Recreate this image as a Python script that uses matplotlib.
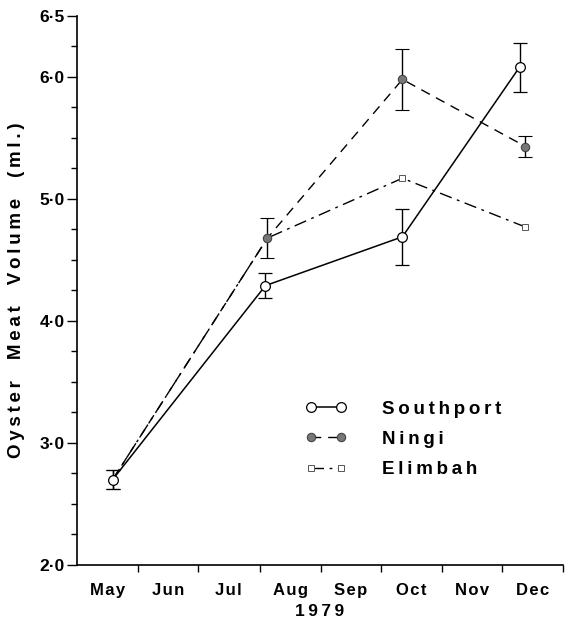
import datetime as dt
import matplotlib
matplotlib.use("Agg")
import matplotlib.pyplot as plt
import matplotlib.dates as mdates
from matplotlib.lines import Line2D
from matplotlib.ticker import FixedLocator, FuncFormatter

plt.rcParams['font.family'] = ['Liberation Sans', 'DejaVu Sans']

# sampling dates (1979) and mean meat volume (ml) for each site
south_dates = [dt.date(1979, 5, 19), dt.date(1979, 8, 4), dt.date(1979, 10, 12), dt.date(1979, 12, 10)]
ningi_dates = [dt.date(1979, 5, 19), dt.date(1979, 8, 5), dt.date(1979, 10, 12), dt.date(1979, 12, 13)]
elim_dates = [dt.date(1979, 5, 19), dt.date(1979, 8, 5), dt.date(1979, 10, 12), dt.date(1979, 12, 13)]

southport = [2.70, 4.29, 4.69, 6.08]
southport_err = [0.08, 0.10, 0.23, 0.20]
ningi = [2.70, 4.68, 5.98, 5.43]
ningi_err = [0.08, 0.16, 0.25, 0.09]
elimbah = [2.70, 4.68, 5.17, 4.77]

months = ['May', 'Jun', 'Jul', 'Aug', 'Sep', 'Oct', 'Nov', 'Dec']
y_major = [2.0, 3.0, 4.0, 5.0, 6.0, 6.5]


def spaced(s, sep='\u2009'):
    # old typewriter-ish letter spacing
    return sep.join(s)


fig = plt.figure(figsize=(5.7, 6.26), dpi=100)
ax = fig.add_axes([0.135, 0.0975, 0.853, 0.877])

south_style = dict(color='black', lw=1.1, marker='o', ms=7, mfc='white', mec='black', mew=0.9)
ningi_style = dict(color='black', lw=1.0, ls=(0, (7, 5)), marker='o', ms=6,
                   mfc='#777777', mec='#444444', mew=0.8)
elim_style = dict(color='black', lw=1.0, ls=(0, (9, 4, 2, 4)), marker='s', ms=4.5,
                  mfc='white', mec='#555555', mew=0.7)

ax.errorbar(south_dates, southport, yerr=southport_err, ecolor='black', elinewidth=1.0,
            capsize=5, capthick=1.0, zorder=4, **south_style)
ax.errorbar(ningi_dates, ningi, yerr=ningi_err, ecolor='black', elinewidth=1.0,
            capsize=5, capthick=1.0, zorder=3, **ningi_style)
ax.plot(elim_dates, elimbah, zorder=2, **elim_style)

# x axis: month boundaries as ticks, month names centred between them
bounds = [dt.date(1979, m, 1) for m in range(5, 13)] + [dt.date(1980, 1, 1)]
ax.set_xlim(bounds[0], bounds[-1])
ax.xaxis.set_major_locator(FixedLocator(mdates.date2num(bounds[1:])))
ax.xaxis.set_major_formatter(FuncFormatter(lambda v, p: ''))
mids = [mdates.date2num(bounds[i]) + (mdates.date2num(bounds[i + 1]) - mdates.date2num(bounds[i])) / 2
        for i in range(len(months))]
ax.set_xticks(mids, [spaced(m, '\u200a') for m in months], minor=True)
ax.tick_params(axis='x', which='minor', length=0, pad=13, labelsize=12)
ax.tick_params(axis='x', which='major', length=5, width=1)
for t in ax.get_xticklabels(minor=True):
    t.set_fontweight('bold')

ax.set_ylim(2.0, 6.5)
ax.set_yticks(y_major)
ax.set_yticklabels([('%.1f' % v).replace('.', '\u00b7') for v in y_major])
ax.yaxis.set_minor_locator(FixedLocator([2.25, 2.5, 2.75, 3.25, 3.5, 3.75, 4.25, 4.5, 4.75,
                                         5.25, 5.5, 5.75, 6.25]))
ax.tick_params(axis='y', which='major', length=7, width=1, labelsize=12.5, pad=2)
ax.tick_params(axis='y', which='minor', length=4, width=1)
for t in ax.get_yticklabels():
    t.set_fontweight('bold')

for s in ['top', 'right']:
    ax.spines[s].set_visible(False)
ax.spines['left'].set_linewidth(1.2)
ax.spines['bottom'].set_linewidth(1.2)

ax.set_ylabel('    '.join(spaced(w) for w in ['Oyster', 'Meat', 'Volume', '(ml.)']),
              fontsize=13.5, fontweight='bold', labelpad=10)
ax.set_xlabel(spaced('1979'), fontsize=12.5, fontweight='bold', labelpad=4)

handles = [Line2D([], [], **south_style), Line2D([], [], **ningi_style), Line2D([], [], **elim_style)]
names = ['Southport', 'Ningi', 'Elimbah']
ax.legend(handles, [spaced(n) for n in names], loc='upper left', bbox_to_anchor=(0.435, 0.33),
          frameon=False, numpoints=2, handlelength=2.2, handletextpad=1.9, labelspacing=0.7,
          prop={'size': 13.5, 'weight': 'bold'})

fig.savefig('out.png', dpi=100)
